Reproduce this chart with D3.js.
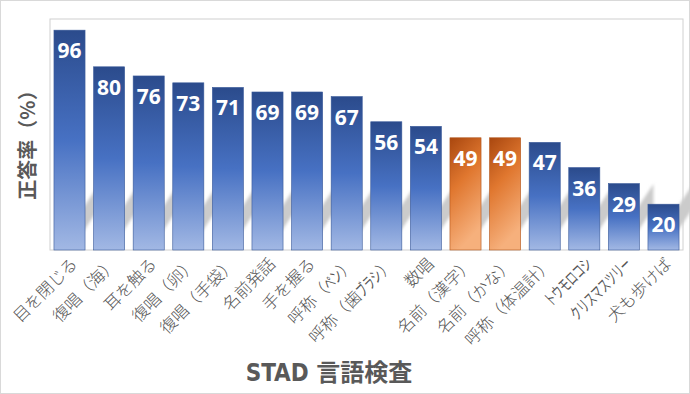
<!DOCTYPE html>
<html><head><meta charset="utf-8">
<script src="https://cdn.jsdelivr.net/npm/d3@7"></script>
<style>body{margin:0;background:#fff}svg{display:block}</style>
</head><body><svg id="c" width="690" height="394"></svg>
<script>
const categories = ["目を閉じる","復唱（海）","耳を触る","復唱（卵）","復唱（手袋）","名前発話","手を握る","呼称（ペン）","呼称（歯ブラシ）","数唱","名前（漢字）","名前（かな）","呼称（体温計）","トウモロコシ","クリスマスツリー","犬も歩けば"];
const values = [96,80,76,73,71,69,69,67,56,54,49,49,47,36,29,20];
const highlighted = ["名前（漢字）","名前（かな）"];
const yTitle = "正答率（%）";
const xTitle = "STAD 言語検査";

const svg = d3.select("#c");
const W = 690, H = 394;
const m = {l:50, r:7, t:20, b:144};
const x = d3.scaleBand().domain(categories).range([m.l, W-m.r]).paddingInner(0.215).paddingOuter(0.1);
const y = d3.scaleLinear().domain([0,100]).range([H-m.b, m.t+1]);

const defs = svg.append("defs");
const gb = defs.append("linearGradient").attr("id","gb").attr("x1",0).attr("y1",0).attr("x2",0).attr("y2",1);
gb.append("stop").attr("offset","0%").attr("stop-color","#2b4b8c");
gb.append("stop").attr("offset","50%").attr("stop-color","#4771c3");
gb.append("stop").attr("offset","100%").attr("stop-color","#a2b8e4");
const go = defs.append("linearGradient").attr("id","go").attr("x1",0).attr("y1",0).attr("x2",0.3).attr("y2",1);
go.append("stop").attr("offset","0%").attr("stop-color","#a9470f");
go.append("stop").attr("offset","45%").attr("stop-color","#e0772f");
go.append("stop").attr("offset","100%").attr("stop-color","#f6b07c");
defs.append("filter").attr("id","bl").append("feGaussianBlur").attr("stdDeviation",1.6);

// outer border
svg.append("rect").attr("x",0.5).attr("y",0.5).attr("width",W-1).attr("height",H-1)
  .attr("fill","#fff").attr("stroke","#d9d9d9");
// plot border
svg.append("rect").attr("x",m.l).attr("y",m.t-1).attr("width",W-m.r-m.l).attr("height",H-m.b-m.t+1)
  .attr("fill","none").attr("stroke","#d0d0d0");

const base = y(0);
const bw = x.bandwidth();
// shadows (cast diagonally into the gaps)
svg.append("g").attr("filter","url(#bl)").selectAll("path").data(categories).join("path")
  .attr("d", c => {const xr = x(c)+bw; return `M${xr-8},${base-9} L${xr+14},${base-42} L${xr+14},${base-66} L${xr-8},${base-33} Z`;})
  .attr("fill","#cbcbcb");

svg.append("g").selectAll("rect").data(categories).join("rect")
  .attr("x", c => x(c)).attr("width", bw)
  .attr("y", (c,i) => y(values[i])).attr("height", (c,i) => base - y(values[i]))
  .attr("fill", c => highlighted.includes(c) ? "url(#go)" : "url(#gb)")
  .attr("stroke", c => highlighted.includes(c) ? "#b0541a" : "#3a5a9a").attr("stroke-width",0.6);

svg.append("g").selectAll("text").data(categories).join("text")
  .attr("x", c => x(c)+bw/2).attr("y", (c,i) => y(values[i])+28)
  .attr("text-anchor","middle").attr("fill","#fff")
  .attr("font-family","'Open Sans','DejaVu Sans',sans-serif").attr("font-weight","bold").attr("font-size",21)
  .text((c,i) => values[i]);

// x axis labels (katakana runs drawn narrow, like half-width kana); all glyphs are full-width (1em)
const fs = 16.5, kanaScale = 0.6;
const xa = svg.append("g").attr("transform",`translate(0,${base})`)
  .call(d3.axisBottom(x).tickSize(0).tickPadding(0));
xa.select(".domain").remove();
xa.selectAll(".tick").each(function(d){
  const tick = d3.select(this);
  tick.select("text").remove();
  const g = tick.append("g").attr("transform","translate(9,15) rotate(-45)");
  const inner = g.append("g");
  let pos = 0;
  const runs = d.match(/[\u30A0-\u30FF]+|[^\u30A0-\u30FF]+/g);
  runs.forEach(r => {
    const kana = /[\u30A0-\u30FF]/.test(r);
    const sx = kana ? kanaScale : 1;
    inner.append("text").attr("x",0).attr("y",0)
      .style("font-family","'Noto Sans CJK JP',sans-serif").style("font-size",fs+"px")
      .style("font-weight", kana ? "400" : "300").style("fill","#555").style("text-anchor","start")
      .attr("transform",`translate(${pos},0) scale(${sx},1)`).text(r);
    pos += [...r].length*fs*sx;
  });
  inner.attr("transform",`translate(${-pos},0)`);
});

svg.append("text").attr("transform",`translate(35,140) rotate(-90)`)
  .attr("text-anchor","middle").attr("font-family","'Noto Sans CJK JP',sans-serif")
  .attr("font-weight","bold").attr("font-size",20).attr("fill","#595959").text(yTitle);

svg.append("text").attr("x",329).attr("y",381).attr("text-anchor","middle")
  .attr("font-family","'DejaVu Sans Condensed','Liberation Sans Narrow','Noto Sans CJK JP',sans-serif").attr("font-weight","bold")
  .attr("font-size",24).attr("fill","#595959").text(xTitle);
</script></body></html>
